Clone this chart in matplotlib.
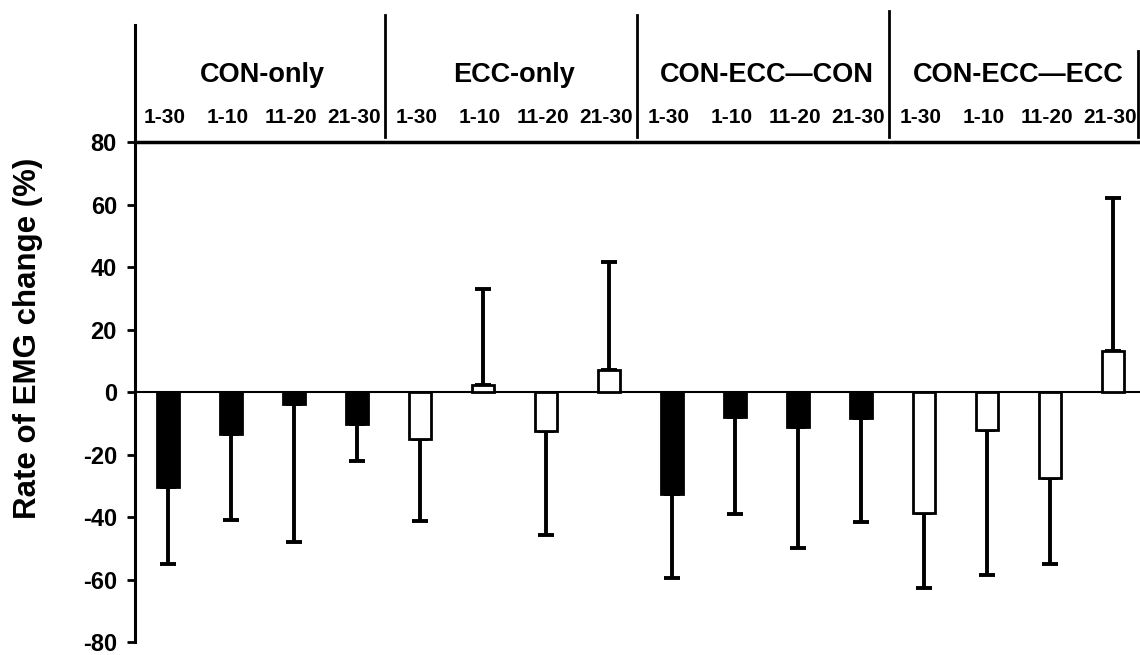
import matplotlib
matplotlib.use("Agg")
import matplotlib.pyplot as plt
import numpy as np

plt.rcParams['font.family'] = ['Liberation Sans', 'DejaVu Sans']
plt.rcParams['font.weight'] = 'bold'
plt.rcParams['axes.unicode_minus'] = False

groups = ["CON-only", "ECC-only", "CON-ECC\u2014CON", "CON-ECC\u2014ECC"]
phases = ["1-30", "1-10", "11-20", "21-30"]

# mean rate of change and end of the SD bar, 16 bars (4 groups x 4 phases)
means = [-30.3, -13.4, -3.8, -10.2,
         -15.0, 2.2, -12.4, 7.0,
         -32.6, -8.1, -11.3, -8.4,
         -38.7, -12.1, -27.4, 13.0]
sd_ends = [-55.0, -40.8, -47.9, -22.2,
           -41.2, 33.0, -45.7, 41.5,
           -59.5, -39.0, -50.0, -41.6,
           -62.7, -58.7, -55.0, 62.0]
fills = ["black"] * 4 + ["white"] * 4 + ["black"] * 4 + ["white"] * 4

x = np.arange(len(means))
means = np.array(means)
sd_ends = np.array(sd_ends)
lower = np.where(sd_ends < means, means - sd_ends, 0)
upper = np.where(sd_ends > means, sd_ends - means, 0)

fig = plt.figure(figsize=(11.4, 6.55), dpi=100)
ax = fig.add_axes([0.1184, 0.0198, 0.8816, 0.7634])

ax.errorbar(x, means, yerr=[lower, upper], fmt='none', ecolor='black',
            elinewidth=2.8, capsize=6, capthick=2.8, zorder=2)
ax.bar(x, means, width=0.35, color=fills, edgecolor='black', linewidth=2,
       zorder=3)
ax.axhline(0, color='black', lw=1.5, zorder=1)

ax.set_xlim(-0.524, 15.43)
ax.set_ylim(-80, 80)
ax.set_yticks(np.arange(-80, 81, 20))
ax.tick_params(axis='y', labelsize=17, width=2, length=6, pad=7)
ax.set_xticks([])
ax.spines['right'].set_visible(False)
ax.spines['bottom'].set_visible(False)
ax.spines['left'].set_linewidth(2.2)
ax.spines['top'].set_linewidth(2.5)

# header with group names and phase labels
ax.plot([-0.524, -0.524], [80, 117.4], color='black', lw=2.2, clip_on=False)
for xs, ytop in zip([3.45, 7.45, 11.45, 15.4], [120.6, 120.6, 122, 109]):
    ax.plot([xs, xs], [81.5, ytop], color='black', lw=2, clip_on=False)

for i, g in enumerate(groups):
    ax.text(i * 4 + 1.5, 101.4, g, ha='center', va='center', fontsize=19.5,
            fontweight='bold')
    for j, p in enumerate(phases):
        ax.text(i * 4 + j - 0.05, 88, p, ha='center', va='center',
                fontsize=15, fontweight='bold')

fig.text(0.0246, 1 - 338 / 655, "Rate of EMG change (%)", rotation=90,
         ha='center', va='center', fontsize=22.5, fontweight='bold')

fig.savefig("out.png", dpi=100)
